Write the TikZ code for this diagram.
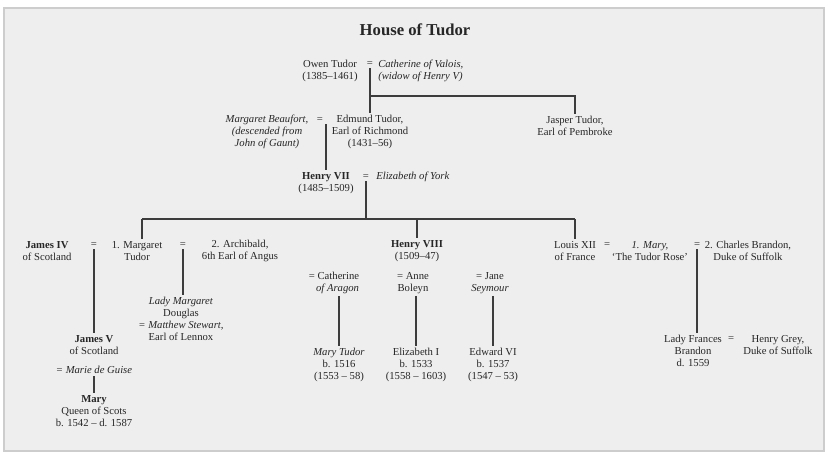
\documentclass[tikz,border=0pt]{standalone}
\usepackage{fontspec}
\setmainfont{Liberation Serif}
\usepackage{xcolor}
\usepackage{tikz}
\usetikzlibrary{positioning,calc}
\definecolor{panelgray}{RGB}{238,238,238}
\definecolor{paneledge}{RGB}{205,205,205}
\definecolor{inkgray}{RGB}{38,38,38}
\definecolor{linegray}{RGB}{60,60,60}

\begin{document}
\begin{tikzpicture}[
    x=0.75pt, y=-0.75pt,
    person/.style={align=center, inner sep=1.5pt, text=inkgray, font=\fontsize{8}{9}\selectfont},
    spouse/.style={person, font=\fontsize{8}{9}\selectfont\itshape},
    wed/.style={inner sep=1pt, text=inkgray, font=\fontsize{8}{9}\selectfont},
    heading/.style={text=inkgray, font=\fontsize{12.5}{14}\selectfont\bfseries},
    line/.style={draw=linegray, line width=1pt}
]
    \useasboundingbox (0,0) rectangle (828,455);
    \draw[draw=paneledge, line width=1.8pt, fill=panelgray] (4,8) rectangle (824,451);

    \node[heading] (title) at (415,30) {House of Tudor};

    \node[person] (owen) at (330,70.5) {Owen Tudor\\(1385–1461)};
    \node[wed] (wed1) at (370,64) {=};
    \node[spouse, align=left, anchor=west] (valois) at (376,70.5) {Catherine of Valois,\\(widow of Henry V)};

    \node[spouse] (beaufort) at (267,132) {Margaret Beaufort,\\(descended from\\John of Gaunt)};
    \node[wed] (wed2) at (320,120) {=};
    \node[person] (edmund) at (370,132) {Edmund Tudor,\\Earl of Richmond\\(1431–56)};
    \node[person] (jasper) at (575,126) {Jasper Tudor,\\Earl of Pembroke};

    \node[person] (henry7) at (326,183) {\textbf{Henry VII}\\(1485–1509)};
    \node[wed] (wed3) at (366,177) {=};
    \node[spouse, anchor=west] (york) at (374,177) {Elizabeth of York};

    \node[person] (james4) at (47,251) {\textbf{James IV}\\of Scotland};
    \node[wed] (wed4) at (94,245) {=};
    \node[person] (margt) at (137,251) {1. Margaret\\Tudor};
    \node[wed] (wed5) at (183,245) {=};
    \node[person] (archibald) at (240,251) {2. Archibald,\\6th Earl of Angus};

    \node[person] (henry8) at (417,251) {\textbf{Henry VIII}\\(1509–47)};

    \node[person] (louis) at (575,251) {Louis XII\\of France};
    \node[wed] (wed6) at (607,245) {=};
    \node[person] (marytr) at (650,251) {\textit{1. Mary,}\\‘The Tudor Rose’};
    \node[wed] (wed7) at (697,245) {=};
    \node[person] (brandon) at (748,251) {2. Charles Brandon,\\Duke of Suffolk};

    \node[person, align=right] (aragon) at (334,283) {= Catherine\\\textit{of Aragon}};
    \node[person] (boleyn) at (413,283) {= Anne\\Boleyn};
    \node[person] (seymour) at (490,283) {= Jane\\\textit{Seymour}};

    \node[person] (ladymarg) at (181,319) {\textit{Lady Margaret}\\Douglas\\\textit{= Matthew Stewart,}\\Earl of Lennox};
    \node[person] (james5) at (94,345) {\textbf{James V}\\of Scotland};
    \node[spouse] (guise) at (94,370) {= Marie de Guise};
    \node[person] (maryqos) at (94,411) {\textbf{Mary}\\Queen of Scots\\b. 1542 – d. 1587};

    \node[person] (marytudor) at (339,365) {\textit{Mary Tudor}\\b. 1516\\(1553 – 58)};
    \node[person] (elizabeth) at (416,365) {Elizabeth I\\b. 1533\\(1558 – 1603)};
    \node[person] (edward) at (493,365) {Edward VI\\b. 1537\\(1547 – 53)};

    \node[person] (frances) at (693,351) {Lady Frances\\Brandon\\d. 1559};
    \node[wed] (wed8) at (731,339) {=};
    \node[person] (grey) at (778,345) {Henry Grey,\\Duke of Suffolk};

    \coordinate (owenjoin) at (370,96);
    \coordinate (beaufortjoin) at (326,124);
    \coordinate (h7join) at (366,219);
    \coordinate (kidsleft) at (142,219);
    \coordinate (kidsright) at (575,219);

    \draw[line] (wed1.south) -- (wed1.south |- edmund.north);
    \draw[line] (owenjoin) -| (jasper.north);
    \draw[line] (beaufortjoin) -- (beaufortjoin |- henry7.north);

    \draw[line] (wed3.south) -- (h7join);
    \draw[line] (kidsleft) -- (kidsright);
    \draw[line] (kidsleft) -- (kidsleft |- margt.north);
    \draw[line] (h7join -| henry8.north) -- (henry8.north);
    \draw[line] (kidsright) -- (kidsright |- louis.north);

    \draw[line] (wed4.south) -- (james5.north);
    \draw[line] (wed5.south) -- (wed5.south |- ladymarg.north);
    \draw[line] (guise.south) -- (maryqos.north);

    \draw[line] (marytudor.north |- aragon.south) -- (marytudor.north);
    \draw[line] (elizabeth.north |- boleyn.south) -- (elizabeth.north);
    \draw[line] (edward.north |- seymour.south) -- (edward.north);

    \draw[line] (wed7.south) -- (wed7.south |- frances.north);
\end{tikzpicture}
\end{document}
